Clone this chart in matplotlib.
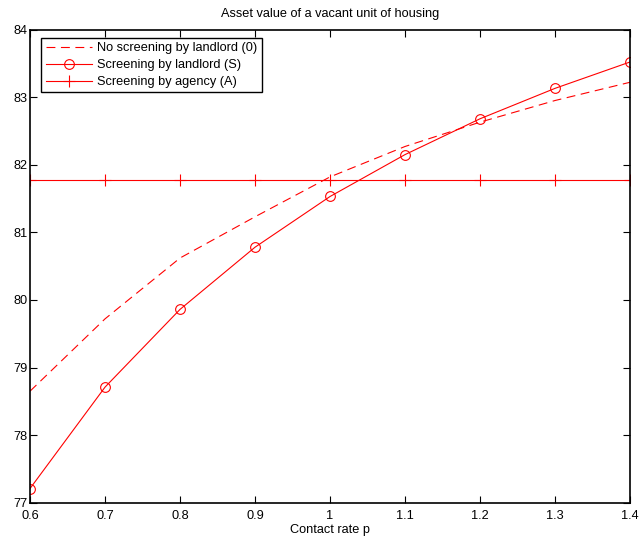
import matplotlib
matplotlib.use('Agg')
import matplotlib.pyplot as plt

# contact rate p
p = [0.6, 0.7, 0.8, 0.9, 1.0, 1.1, 1.2, 1.3, 1.4]
# asset values
no_screening = [78.65, 79.72, 80.62, 81.23, 81.82, 82.27, 82.63, 82.95, 83.22]
landlord_screening = [77.21, 78.71, 79.86, 80.78, 81.53, 82.15, 82.68, 83.13, 83.52]
agency_screening = [81.77] * len(p)

plt.rcParams['font.family'] = ['Liberation Sans', 'DejaVu Sans']
plt.rcParams['font.size'] = 9.2

fig = plt.figure(figsize=(6.39, 5.42), dpi=100)
ax = fig.add_axes([0.047, 0.0725, 0.939, 0.873])

ax.plot(p, no_screening, color='red', linestyle=(0, (8, 5)), linewidth=0.8,
        label='No screening by landlord (0)')
ax.plot(p, landlord_screening, color='red', linewidth=0.8, marker='o',
        markersize=7, markerfacecolor='none', markeredgewidth=0.8,
        label='Screening by landlord (S)')
ax.plot(p, agency_screening, color='red', linewidth=0.8, marker='+',
        markersize=8, markeredgewidth=0.8, label='Screening by agency (A)')

ax.set_xlim(0.6, 1.4)
ax.set_ylim(77, 84)
ax.set_xticks(p)
ax.set_xticklabels(['0.6', '0.7', '0.8', '0.9', '1', '1.1', '1.2', '1.3', '1.4'])
ax.tick_params(direction='in', top=True, right=True, length=5, width=0.8)
ax.tick_params(axis='x', pad=5)
ax.tick_params(axis='y', pad=2)
for s in ax.spines.values():
    s.set_linewidth(1.2)

ax.set_title('Asset value of a vacant unit of housing', fontsize=9.2, pad=9)
ax.set_xlabel('Contact rate p', labelpad=2)

leg = ax.legend(loc='upper left', bbox_to_anchor=(0.008, 0.996), fancybox=False,
                edgecolor='black', framealpha=1, handlelength=3.6,
                borderpad=0.35, labelspacing=0.38, handletextpad=0.4)
leg.get_frame().set_linewidth(1.0)

fig.savefig('out.png', dpi=100)
